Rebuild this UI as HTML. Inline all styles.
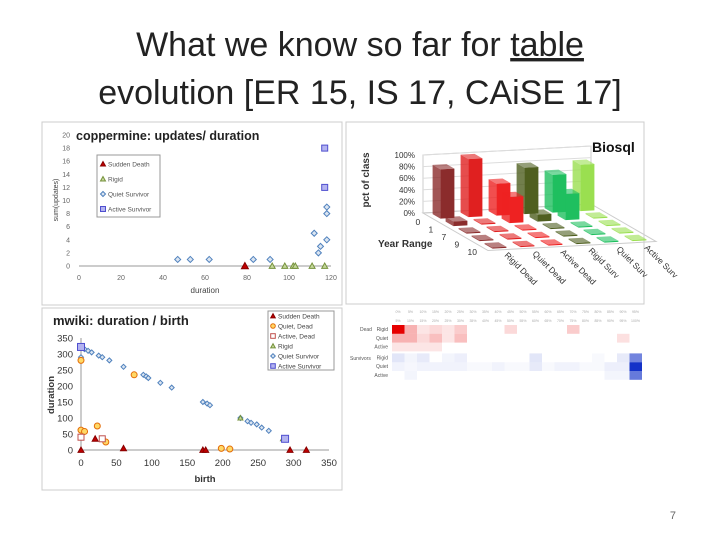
<!DOCTYPE html>
<html><head><meta charset="utf-8"><style>
body{margin:0;width:720px;height:540px;background:#fff;overflow:hidden;font-family:"Liberation Sans",sans-serif}
svg text{font-family:"Liberation Sans",sans-serif}
</style></head><body>
<svg id="s" width="720" height="540" viewBox="0 0 720 540">
<text x="360" y="56" text-anchor="middle" font-size="34" fill="#222">What we know so far for <tspan text-decoration="underline">table</tspan></text>
<text x="360" y="104" text-anchor="middle" font-size="34" fill="#222">evolution [ER 15, IS 17, CAiSE 17]</text>
<text x="676" y="519" text-anchor="end" font-size="11" fill="#666">7</text>
<g id="c1">
<rect x="42" y="122" width="300" height="183" fill="#fff" stroke="#ccc"/>
</g>
<g id="c2">
<rect x="42" y="308" width="300" height="182" fill="#fff" stroke="#ccc"/>
</g>
<g id="c3">
<rect x="346" y="122" width="298" height="182" fill="#fff" stroke="#ccc"/>
</g>
<g id="c4"></g>
</svg>
<script>
const NS="http://www.w3.org/2000/svg";
function mk(p,t,a,txt){const e=document.createElementNS(NS,t);for(const k in a)e.setAttribute(k,a[k]);if(txt!==undefined)e.textContent=txt;p.appendChild(e);return e;}
function marker(g,type,x,y,s){
 let e;
 if(type==='tri'){e=mk(g,'polygon',{points:`${x},${y-s} ${x-s},${y+s*0.8} ${x+s},${y+s*0.8}`,fill:'#c00000',stroke:'#800'});}
 else if(type==='rigid'){e=mk(g,'polygon',{points:`${x},${y-s} ${x-s},${y+s*0.8} ${x+s},${y+s*0.8}`,fill:'#c4d79b',stroke:'#76923c'});}
 else if(type==='dia'){e=mk(g,'polygon',{points:`${x},${y-s} ${x+s},${y} ${x},${y+s} ${x-s},${y}`,fill:'#dbe5f1',stroke:'#4f81bd'});}
 else if(type==='sq'){e=mk(g,'rect',{x:x-s,y:y-s,width:2*s,height:2*s,fill:'#b3b3f0',stroke:'#4f4fcf'});}
 else if(type==='asq'){e=mk(g,'rect',{x:x-s,y:y-s,width:2*s,height:2*s,fill:'#fff',stroke:'#c0504d'});}
 else {e=mk(g,'circle',{cx:x,cy:y,r:s,fill:'#ffd966',stroke:'#e36c09'});}
 return e;
}
// ---- coppermine data
const cpQuietX=[47,53,62,83,91,112,114,115,118,118,118];
const cpQuietY=[1,1,1,1,1,5,2,3,9,8,4];
const cpSuddenX=[79];const cpSuddenY=[0];
const cpRigidX=[92,98,102,103,111,117];const cpRigidY=[0,0,0,0,0,0];
const cpActiveX=[117,117];const cpActiveY=[18,12];
const cpXTicks=[0,20,40,60,80,100,120];const cpYTicks=[0,2,4,6,8,10,12,14,16,18,20];
(function(){
 const g=document.getElementById('c1');
 const X=v=>79+v/120*252, Y=v=>266-v/20*131;
 mk(g,'line',{x1:X(0),y1:Y(0),x2:X(120),y2:Y(0),stroke:'#999'});
 cpXTicks.forEach(t=>{const e=mk(g,'text',{x:X(t),y:280,'font-size':7,'text-anchor':'middle',fill:'#666'},t);});
 cpYTicks.forEach(t=>{const e=mk(g,'text',{x:70,y:Y(t)+2.5,'font-size':7,'text-anchor':'end',fill:'#666'},t);});
 let e=mk(g,'text',{x:205,y:293,'font-size':8,'text-anchor':'middle',fill:'#444'},'duration');
 e=mk(g,'text',{x:58,y:200,'font-size':7,'text-anchor':'middle',fill:'#444',transform:'rotate(-90 58 200)'},'sum(updates)');
 e=mk(g,'text',{x:76,y:140,'font-size':12.5,'font-weight':'bold',fill:'#222'},'coppermine: updates/ duration');
 cpQuietX.forEach((v,i)=>{const m=marker(g,'dia',X(v),Y(cpQuietY[i]),3);});
 cpSuddenX.forEach((v,i)=>{const m=marker(g,'tri',X(v),Y(cpSuddenY[i]),3.5);});
 cpRigidX.forEach((v,i)=>{const m=marker(g,'rigid',X(v),Y(cpRigidY[i]),3);});
 cpActiveX.forEach((v,i)=>{const m=marker(g,'sq',X(v),Y(cpActiveY[i]),3);});
 e=mk(g,'rect',{x:97,y:155,width:63,height:62,fill:'#fff',stroke:'#999'});
 const L=[['tri','Sudden Death'],['rigid','Rigid'],['dia','Quiet Survivor'],['sq','Active Survivor']];
 L.forEach((l,i)=>{const y=164+i*15;const m=marker(g,l[0],103,y,2.5);const t=mk(g,'text',{x:108,y:y+2.5,'font-size':6.5,fill:'#555'},l[1]);});
})();
// ---- mwiki data
const mwQuietX=[0,5,10,15,25,30,40,60,88,92,95,112,128,172,178,182,225,235,240,248,255,265,0];
const mwQuietY=[320,315,310,305,295,290,280,260,235,230,225,210,195,150,145,140,100,90,85,80,70,60,290];
const mwQDeadX=[0,0,5,23,35,75,198,210];const mwQDeadY=[280,62,58,75,25,235,5,3];
const mwADeadX=[0,30];const mwADeadY=[40,35];
const mwSuddenX=[0,20,60,172,176,295,318];const mwSuddenY=[0,35,5,0,0,0,0];
const mwRigidX=[225,285];const mwRigidY=[100,35];
const mwActiveX=[0,288];const mwActiveY=[322,35];
const mwXTicks=[0,50,100,150,200,250,300,350];const mwYTicks=[0,50,100,150,200,250,300,350];
(function(){
 const g=document.getElementById('c2');
 const X=v=>81+v/350*248, Y=v=>450-v/350*112;
 mk(g,'line',{x1:X(0),y1:Y(0),x2:X(350),y2:Y(0),stroke:'#999'});
 mk(g,'line',{x1:X(0),y1:Y(0),x2:X(0),y2:Y(350),stroke:'#999'});
 mwXTicks.forEach(t=>{const e=mk(g,'text',{x:X(t),y:466,'font-size':9.5,'text-anchor':'middle',fill:'#333'},t);});
 mwYTicks.forEach(t=>{const e=mk(g,'text',{x:73,y:Y(t)+3.5,'font-size':9.5,'text-anchor':'end',fill:'#333'},t);});
 let e=mk(g,'text',{x:205,y:482,'font-size':9.5,'font-weight':'bold','text-anchor':'middle',fill:'#333'},'birth');
 e=mk(g,'text',{x:54,y:395,'font-size':9.5,'font-weight':'bold','text-anchor':'middle',fill:'#333',transform:'rotate(-90 54 395)'},'duration');
 e=mk(g,'text',{x:53,y:325,'font-size':13,'font-weight':'bold',fill:'#222'},'mwiki: duration / birth');
 mwQuietX.forEach((v,i)=>{const m=marker(g,'dia',X(v),Y(mwQuietY[i]),2.5);});
 mwQDeadX.forEach((v,i)=>{const m=marker(g,'circ',X(v),Y(mwQDeadY[i]),3);});
 mwADeadX.forEach((v,i)=>{const m=marker(g,'asq',X(v),Y(mwADeadY[i]),3);});
 mwSuddenX.forEach((v,i)=>{const m=marker(g,'tri',X(v),Y(mwSuddenY[i]),3);});
 mwRigidX.forEach((v,i)=>{const m=marker(g,'rigid',X(v),Y(mwRigidY[i]),2.5);});
 mwActiveX.forEach((v,i)=>{const m=marker(g,'sq',X(v),Y(mwActiveY[i]),3.5);});
 e=mk(g,'rect',{x:268,y:311,width:66,height:59,fill:'#fff',stroke:'#999'});
 const L=[['tri','Sudden Death'],['circ','Quiet, Dead'],['asq','Active, Dead'],['rigid','Rigid'],['dia','Quiet Survivor'],['sq','Active Survivor']];
 L.forEach((l,i)=>{const y=316+i*10;const m=marker(g,l[0],273,y,2.3);const t=mk(g,'text',{x:278,y:y+2.5,'font-size':6.5,fill:'#444'},l[1]);});
})();
// ---- biosql 3D bars
const bsClasses=['Rigid Dead','Quiet Dead','Active Dead','Rigid Surv','Quiet Surv','Active Surv'];
const bsYears=['0','1','7','9','10'];
const bsColors=['#8b2c2c','#e02020','#ee2222','#4f5f1f','#1fbf5f','#9adf50'];
// values[row][col] in percent
const bsValues=[[85,100,55,80,65,80],[8,0,45,12,45,0],[0,0,0,0,0,0],[0,0,0,0,0,0],[0,0,0,0,0,0]];
(function(){
 const g=document.getElementById('c3');
 const B={x:423,y:213},cv={x:28,y:-1.5},rv={x:13,y:7.5},H=0.58;
 const P=(c,r,h)=>({x:B.x+c*cv.x+r*rv.x,y:B.y+c*cv.y+r*rv.y-h*H});
 const p0=P(0,0,0),p1=P(6,0,0);
 mk(g,'polygon',{points:`${p0.x},${p0.y} ${p1.x},${p1.y} ${p1.x},${p1.y-100*H} ${p0.x},${p0.y-100*H}`,fill:'none',stroke:'#ccc'});
 [0,20,40,60,80,100].forEach(t=>{mk(g,'line',{x1:p0.x,y1:p0.y-t*H,x2:p1.x,y2:p1.y-t*H,stroke:'#ddd'});const e=mk(g,'text',{x:p0.x-8,y:p0.y-t*H+3,'font-size':8,'text-anchor':'end',fill:'#333'},t+'%');});
 const f=P(0,5,0),f2=P(6,5,0);
 mk(g,'polygon',{points:`${p0.x},${p0.y} ${p1.x},${p1.y} ${f2.x},${f2.y} ${f.x},${f.y}`,fill:'none',stroke:'#ccc'});
 for(let r=0;r<bsYears.length;r++)for(let c=0;c<bsClasses.length;c++){
  const v=bsValues[r][c];const a=P(c+0.25,r+0.2,0),b=P(c+0.75,r+0.2,0),d=P(c+0.75,r+0.8,0),e0=P(c+0.25,r+0.8,0);
  const h=Math.max(v,2)*H;const col=bsColors[c];
  const grp=mk(g,'g',{});
  mk(grp,'polygon',{points:`${e0.x},${e0.y} ${d.x},${d.y} ${d.x},${d.y-h} ${e0.x},${e0.y-h}`,fill:col});
  mk(grp,'polygon',{points:`${a.x},${a.y} ${e0.x},${e0.y} ${e0.x},${e0.y-h} ${a.x},${a.y-h}`,fill:col,opacity:0.8});
  mk(grp,'polygon',{points:`${a.x},${a.y-h} ${b.x},${b.y-h} ${d.x},${d.y-h} ${e0.x},${e0.y-h}`,fill:col,opacity:0.6});
 }
 bsYears.forEach((y,r)=>{const p=P(0,r+0.5,0);const e=mk(g,'text',{x:p.x-14,y:p.y+8,'font-size':8.5,fill:'#333'},y);});
 bsClasses.forEach((n,c)=>{const p=P(c+0.5,5,0);const e=mk(g,'text',{x:p.x+2,y:p.y+6,'font-size':8.5,fill:'#333',transform:`rotate(45 ${p.x+2} ${p.y+6})`},n);});
 let e=mk(g,'text',{x:378,y:247,'font-size':10,'font-weight':'bold',fill:'#333'},'Year Range');
 e=mk(g,'text',{x:369,y:180,'font-size':10,'font-weight':'bold','text-anchor':'middle',fill:'#333',transform:'rotate(-90 369 180)'},'pct of class');
 e=mk(g,'text',{x:592,y:152,'font-size':14,'font-weight':'bold',fill:'#111'},'Biosql');
})();
// ---- heatmap
const hmRows=['Rigid','Quiet','Active','Rigid','Quiet','Active'];
const hmDead=[[1,0.3,0.1,0.15,0.1,0.2,0,0,0,0.15,0,0,0,0,0.2,0,0,0,0,0],[0.3,0.3,0.15,0.25,0.1,0.25,0,0,0,0,0,0,0,0,0,0,0,0,0.12,0],[0.1,0.1,0.1,0.1,0,0,0,0,0,0,0,0,0,0,0,0,0,0,0,0]];
const hmSurv=[[0.12,0.05,0.1,0,0.05,0.08,0,0,0,0,0,0.12,0,0,0,0,0.03,0,0.1,0.6],[0.06,0.04,0.06,0.06,0.06,0.06,0.03,0.03,0.06,0.03,0.03,0.1,0.03,0.06,0.06,0.03,0.03,0.08,0.08,1],[0,0.05,0,0,0,0,0,0,0,0,0,0,0,0,0,0,0,0.05,0.05,0.65]];
(function(){
 const g=document.getElementById('c4');
 const x0=392,cw=12.5,y0=325,ch=8.8;
 for(let c=0;c<20;c++){const t=mk(g,'text',{x:x0+c*cw+6,y:313,'font-size':3.5,'text-anchor':'middle',fill:'#aaa'},(c*5)+'%');
  const t2=mk(g,'text',{x:x0+c*cw+6,y:322,'font-size':3.5,'text-anchor':'middle',fill:'#aaa'},(c*5+5)+'%');}
 const all=[...hmDead,...hmSurv];
 all.forEach((row,r)=>{const y=y0+r*ch+(r>=3?2:0);row.forEach((v,c)=>{if(v<=0)return;const dead=r<3;
   const col=dead?`rgba(230,0,0,${v})`:`rgba(20,50,200,${v})`;const e=mk(g,'rect',{x:x0+c*cw,y:y,width:cw,height:ch,fill:col});});
   const t=mk(g,'text',{x:388,y:y+6,'font-size':5,'text-anchor':'end',fill:'#555'},hmRows[r]);});
 let e=mk(g,'text',{x:360,y:331,'font-size':5,fill:'#555'},'Dead');
 e=mk(g,'text',{x:350,y:360,'font-size':5,fill:'#555'},'Survivors');
})();
</script>
</body></html>
